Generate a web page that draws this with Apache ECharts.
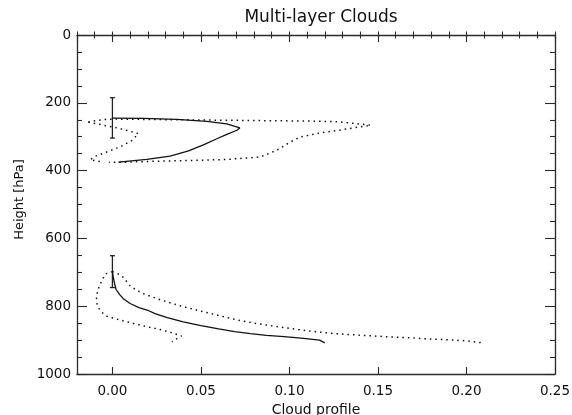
<!DOCTYPE html>
<html>
<head>
<meta charset="utf-8">
<script src="https://cdn.jsdelivr.net/npm/echarts@6/dist/echarts.min.js"></script>
<style>
  html, body { margin: 0; padding: 0; background: #fff; }
  #chart { width: 572px; height: 415px; }
</style>
</head>
<body>
<div id="chart"></div>
<script>
// Cloud profile vs pressure height: [profile value, height in hPa]
const upperMean = [[0.000,245],[0.0175,246],[0.0364,249],[0.0533,255],[0.0646,262],[0.072,274],[0.0703,281],[0.0646,293],[0.059,306],[0.0514,324],[0.043,342],[0.0326,357],[0.0194,367],[0.0034,375]];
const upperLow = [[-0.0136,257],[-0.0051,266],[0.0044,276],[0.0147,291],[0.011,311],[0.0044,330],[-0.0032,345],[-0.0098,358],[-0.0126,368],[-0.007,373]];
const upperHigh = [[-0.0136,257],[-0.0088,252],[-0.0041,249],[0.0006,248],[0.0175,249],[0.0364,250],[0.0552,251],[0.074,252],[0.0929,253],[0.1117,254],[0.1277,256],[0.146,266],[0.1277,281],[0.1173,289],[0.106,301],[0.1004,316],[0.0929,340],[0.0834,360],[0.0646,367],[0.0458,370],[0.027,372],[0.0081,375],[-0.002,375]];

const lowerMean = [[0.000,700],[0.001,728],[0.002,750],[0.004,765],[0.006,777],[0.010,792],[0.015,804],[0.020,812],[0.024,822],[0.031,834],[0.040,846],[0.050,857],[0.060,867],[0.069,875],[0.078,881],[0.087,886],[0.097,890],[0.108,895],[0.117,900],[0.120,908]];
const lowerLow = [[0.000,698],[-0.004,705],[-0.006,725],[-0.0085,755],[-0.009,780],[-0.0085,800],[-0.006,818],[-0.003,830],[0.001,836],[0.006,843],[0.012,851],[0.020,861],[0.027,869],[0.032,876],[0.039,888],[0.036,897],[0.0336,905]];
const lowerHigh = [[0.000,698],[0.003,704],[0.006,714],[0.010,740],[0.014,754],[0.018,764],[0.027,781],[0.037,797],[0.048,812],[0.059,826],[0.070,840],[0.081,851],[0.093,860],[0.105,869],[0.116,876],[0.126,881],[0.144,887],[0.163,892],[0.181,897],[0.200,902],[0.209,908]];

// Cloud-top height spread: x position, top and bottom of the bar (hPa)
const errX = [0, 0];
const errTop = [185, 651];
const errBottom = [304, 745];

const xMin = -0.02, xMax = 0.25;
const yMin = 0, yMax = 1000;

const FONT = 'DejaVu Sans';
const INK = '#111';
const AXIS = '#2a2a2a';

function xAxisMajor(pos, labels) {
  return {
    type: 'value', position: pos, min: xMin, max: xMax,
    name: labels ? 'Cloud profile' : '',
    nameLocation: 'middle', nameGap: 27,
    nameTextStyle: { fontFamily: FONT, fontSize: 14, color: INK },
    axisLine: { show: true, onZero: false, lineStyle: { color: AXIS, width: 1.3 } },
    axisTick: { show: true, inside: true, length: 7, lineStyle: { color: AXIS, width: 1.1 } },
    axisLabel: { show: labels, showMinLabel: false, margin: 10, fontFamily: FONT, fontSize: 13.5, color: INK,
      formatter: v => v.toFixed(2) },
    splitLine: { show: false }
  };
}
function xAxisMinor(pos) {
  return {
    type: 'value', position: pos, min: xMin, max: xMax, interval: 0.01,
    axisLine: { show: false },
    axisTick: { show: true, inside: true, length: 3.5, lineStyle: { color: AXIS, width: 1.1 } },
    axisLabel: { show: false },
    splitLine: { show: false }
  };
}
function yAxis(pos, labels) {
  return {
    type: 'value', position: pos, inverse: true, min: yMin, max: yMax, interval: 200,
    name: labels ? 'Height [hPa]' : '',
    nameLocation: 'middle', nameGap: 45,
    nameTextStyle: { fontFamily: FONT, fontSize: 13, color: INK, padding: [0, 0, 0, 10] },
    axisLine: { show: true, onZero: false, lineStyle: { color: AXIS, width: 1.3 } },
    axisTick: { show: true, inside: true, length: 10, lineStyle: { color: AXIS, width: 1.1 } },
    minorTick: { show: true, splitNumber: 4, length: 5, lineStyle: { color: AXIS, width: 1.1 } },
    axisLabel: { show: labels, margin: 6, fontFamily: FONT, fontSize: 13.5, color: INK,
      formatter: v => String(v) },
    splitLine: { show: false }, minorSplitLine: { show: false }
  };
}

function profileLine(data, dotted) {
  return {
    type: 'line', xAxisIndex: 0, yAxisIndex: 0, data: data,
    showSymbol: false, symbol: 'none', smooth: false, silent: true,
    lineStyle: dotted
      ? { color: '#111', width: 1.5, type: [1.5, 4] }
      : { color: '#111', width: 1.3 }
  };
}

const errData = errX.map((x, i) => [x, errTop[i], errBottom[i]]);

const chart = echarts.init(document.getElementById('chart'), null, { renderer: 'canvas' });
chart.setOption({
  animation: false,
  backgroundColor: '#fff',
  title: {
    text: 'Multi-layer Clouds', left: 316, top: 4, textAlign: 'center',
    textStyle: { fontFamily: FONT, fontSize: 17, fontWeight: 'normal', color: INK }
  },
  grid: { left: 77, right: 17, top: 35, bottom: 41, containLabel: false, outerBoundsMode: 'none' },
  xAxis: [xAxisMajor('bottom', true), xAxisMinor('bottom'), xAxisMajor('top', false), xAxisMinor('top')],
  yAxis: [yAxis('left', true), yAxis('right', false)],
  series: [
    profileLine(upperMean, false),
    profileLine(upperLow, true),
    profileLine(upperHigh, true),
    profileLine(lowerMean, false),
    profileLine(lowerLow, true),
    profileLine(lowerHigh, true),
    {
      type: 'custom', xAxisIndex: 0, yAxisIndex: 0, data: errData, silent: true,
      renderItem: function (params, api) {
        const x = api.value(0);
        const top = api.coord([x, api.value(1)]);
        const bot = api.coord([x, api.value(2)]);
        const cap = 2.5;
        const style = { stroke: '#222', lineWidth: 1.3 };
        return {
          type: 'group',
          children: [
            { type: 'line', shape: { x1: top[0], y1: top[1], x2: bot[0], y2: bot[1] }, style: style },
            { type: 'line', shape: { x1: top[0] - cap, y1: top[1], x2: top[0] + cap, y2: top[1] }, style: style },
            { type: 'line', shape: { x1: bot[0] - cap, y1: bot[1], x2: bot[0] + cap, y2: bot[1] }, style: style }
          ]
        };
      }
    }
  ]
});
</script>
</body>
</html>
